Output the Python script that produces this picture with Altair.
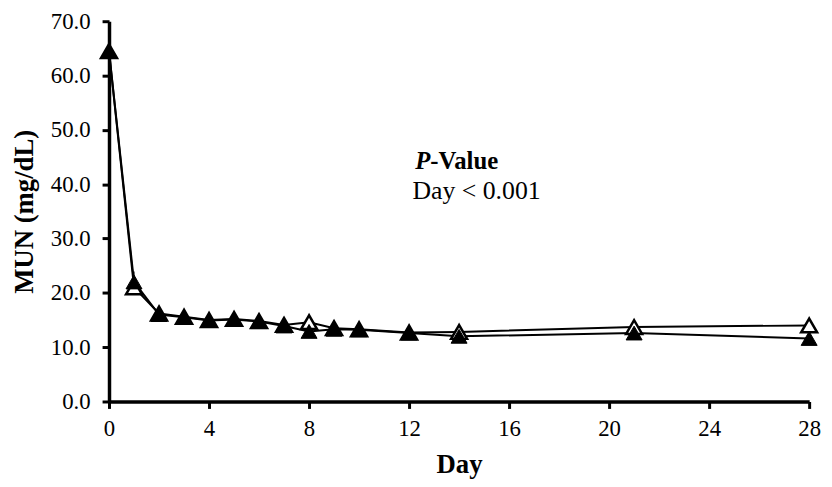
import altair as alt
import pandas as pd

days = [0, 1, 2, 3, 4, 5, 6, 7, 8, 9, 10, 12, 14, 21, 28]
open_vals = [64.5, 21.0, 16.2, 15.6, 15.0, 15.2, 14.8, 14.1, 14.6, 13.5, 13.3, 12.7, 12.8, 13.7, 14.0]
filled_vals = [64.5, 22.0, 16.0, 15.5, 14.9, 15.1, 14.7, 13.9, 12.9, 13.3, 13.2, 12.6, 12.0, 12.6, 11.6]
open_err = [4.4, 1.0, 0.4, 0.4, 0.3, 0.3, 0.3, 0.3, 0.4, 0.3, 0.3, 0.3, 0.3, 0.4, 0.4]
filled_err = [4.4, 1.0, 0.4, 0.4, 0.3, 0.3, 0.3, 0.3, 0.4, 0.3, 0.3, 0.3, 0.3, 0.4, 0.4]

x_ticks = [0, 4, 8, 12, 16, 20, 24, 28]
y_ticks = [0, 10, 20, 30, 40, 50, 60, 70]

rows = []
for d, v, e in zip(days, open_vals, open_err):
    rows.append({"Day": d, "MUN": v, "lo": v - e, "hi": v + e, "series": "open"})
for d, v, e in zip(days, filled_vals, filled_err):
    rows.append({"Day": d, "MUN": v, "lo": v - e, "hi": v + e, "series": "filled"})
df = pd.DataFrame(rows)

FONT = "Liberation Serif"

x = alt.X("Day:Q", scale=alt.Scale(domain=[0, 28], nice=False),
          axis=alt.Axis(values=x_ticks, title="Day", format="d", labelFlush=False,
                        titleFontWeight="bold", titleFontSize=27, titlePadding=12,
                        labelPadding=9))
y = alt.Y("MUN:Q", scale=alt.Scale(domain=[0, 70], nice=False),
          axis=alt.Axis(values=y_ticks, title="MUN (mg/dL)", format=".1f", labelFlush=False,
                        titleFontWeight="bold", titleFontSize=27, titlePadding=12,
                        labelPadding=12))

base = alt.Chart(df)

err = base.mark_rule(color="black", strokeWidth=1.5).encode(
    x=x, y=alt.Y("lo:Q"), y2="hi:Q", detail="series:N")
caps_hi = base.mark_tick(color="black", thickness=1.5, size=10).encode(
    x=x, y=alt.Y("hi:Q"))

lines = base.mark_line(color="black", strokeWidth=2).encode(
    x=x, y=y, detail="series:N")

open_pts = base.transform_filter(alt.datum.series == "open").mark_point(
    shape="triangle-up", size=260, filled=True, fill="white", stroke="black",
    strokeWidth=2.5, opacity=1).encode(x=x, y=y)
filled_pts = base.transform_filter(alt.datum.series == "filled").mark_point(
    shape="triangle-up", size=260, filled=True, fill="black", stroke="black",
    strokeWidth=1, opacity=1).encode(x=x, y=y)

ann_p = pd.DataFrame({"Day": [12.85], "MUN": [44.3], "t": ["P"]})
ann_v = pd.DataFrame({"Day": [12.85], "MUN": [44.3], "t": ["-Value"]})
ann_d = pd.DataFrame({"Day": [14.7], "MUN": [38.8], "t": ["Day < 0.001"]})

t_p = alt.Chart(ann_p).mark_text(font=FONT, fontSize=25, fontWeight="bold",
                                 fontStyle="italic", align="right", baseline="middle",
                                 color="black").encode(
    x="Day:Q", y="MUN:Q", text="t:N")
t_v = alt.Chart(ann_v).mark_text(font=FONT, fontSize=25, fontWeight="bold",
                                 align="left", baseline="middle", color="black").encode(
    x="Day:Q", y="MUN:Q", text="t:N")
t_d = alt.Chart(ann_d).mark_text(font=FONT, fontSize=26, align="center",
                                 baseline="middle", color="black").encode(
    x="Day:Q", y="MUN:Q", text="t:N")

chart = alt.layer(err, caps_hi, lines, open_pts, filled_pts, t_p, t_v, t_d).properties(
    width=707, height=384,
    background="white",
    autosize=alt.AutoSizeParams(type="none"),
    padding={"left": 102, "top": 11, "right": 15, "bottom": 84},
).configure_view(stroke=None).configure_axis(
    grid=False, domainColor="black", domainWidth=3.5, tickColor="black",
    tickWidth=3, tickSize=7, labelFont=FONT, labelFontSize=23, labelColor="black",
    titleFont=FONT, titleColor="black",
)

chart.save("out.html", embed_options={"renderer": "svg", "actions": False})
